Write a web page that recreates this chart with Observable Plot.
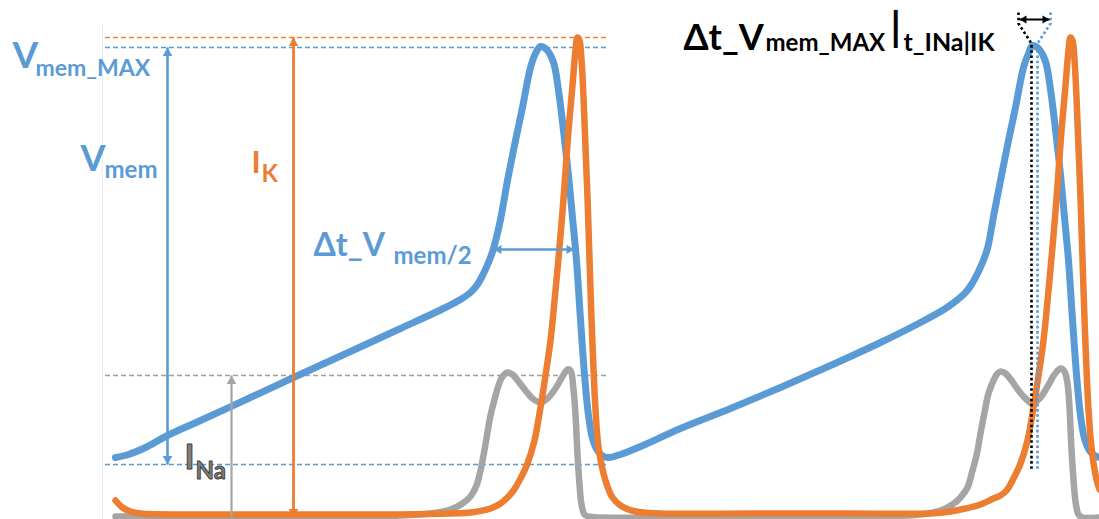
<!DOCTYPE html>
<html><head><meta charset="utf-8">
<script src="https://cdn.jsdelivr.net/npm/d3@7"></script>
<script src="https://cdn.jsdelivr.net/npm/@observablehq/plot@0.6"></script>
<style>
html,body{margin:0;padding:0;background:#fff;}
#chart svg{display:block;}
</style></head><body><div id="chart"></div>
<script>
// ---- series values (time in a.u., amplitude in a.u.) ----
const vmemTime  = [115,128,145,167,200,250,293,350,400,445,460,470,477,483,488,493,500,507,515,522,530,535,540,546,553,558,563,568,572,576,580,584,588,592,597,603,608,620,640,680,730,780,830,880,920,945,956,965,971,977,982,987,993,1000,1008,1015,1023,1028,1032,1038,1045,1050,1055,1060,1064,1068,1072,1076,1080,1084,1089,1094,1099];
const vmemValue = [62,65,72,84,99,122,142,168,191,212,220,227,235,246,257,271,300,339,379,412,452,466,473,470,457,429,389,344,302,259,200,145,104,81,69,63,62,65,73,91,111,132,154,177,197,211,219,227,235,246,257,271,303,339,379,412,452,466,474,471,458,430,390,345,302,259,200,145,104,81,69,64,62];

const ikTime  = [115,122,130,140,200,300,400,450,470,490,500,507,513,520,527,534,540,545,550,555,560,564,568,572,575,577,579,581,583,585,587,590,592,595,598,603,607,612,620,635,660,750,850,930,950,965,980,993,1000,1006,1013,1020,1027,1033,1038,1043,1048,1053,1057,1061,1065,1068,1070,1072,1074,1076,1078,1080,1083,1085,1088,1091,1096,1099];
const ikValue = [19,12,8,6,5,5,5,6,7,11,16,22,29,41,56,79,112,144,179,229,284,334,389,434,469,482,479,460,422,372,322,230,175,110,72,46,33,22,14,8,6,6,6,6,8,11,15,21,24,29,41,56,79,112,144,179,229,284,334,389,434,469,482,479,460,422,372,322,230,175,110,72,40,30];

const inaTime  = [115,200,300,400,430,450,462,470,476,480,483,487,490,493,498,502,507,512,518,525,532,540,547,555,562,567,570,573,575,577,579,581,584,588,600,700,800,880,920,940,952,960,967,972,976,980,984,988,993,997,1000,1005,1011,1018,1025,1032,1040,1047,1054,1060,1064,1067,1069,1071,1073,1075,1078,1082,1099];
const inaValue = [3,3,3,4,6,10,16,23,34,49,64,87,104,116,134,143,147,145,138,129,121,117,121,131,143,150,149,130,105,65,35,15,5,3,2,2,2,3,5,9,15,22,32,49,64,86,107,126,139,146,148,146,139,129,121,116,122,133,145,151,148,136,112,70,40,18,5,2,2];

// reference levels
const refNames  = ["IK max","Vmem max","INa max","Vmem min"];
const refValues = [482, 472, 144, 55];
const refFrom   = [105, 105, 105, 105];
const refTo     = [608, 608, 608, 608];

// peak-time markers (dotted): time of Vmem peak and of INa|IK crossing
const peakMarkTime  = [1031, 1037];

// ---- styles ----
const BLUE = "#5B9BD5", ORANGE = "#ED7D31", GRAY = "#A5A5A5", DARK = "#000000";
const FONT = "Lato, 'Open Sans', 'DejaVu Sans', sans-serif";

const vmem = vmemTime.map((t, i) => ({t, v: vmemValue[i]}));
const ik   = ikTime.map((t, i) => ({t, v: ikValue[i]}));
const ina  = inaTime.map((t, i) => ({t, v: inaValue[i]}));
const refs = refValues.map((v, i) => ({name: refNames[i], v, x1: refFrom[i], x2: refTo[i],
  color: [ORANGE, BLUE, "#A0A0A0", BLUE][i]}));

// annotation arrows (tips, in data units)
const arrows = [
  {x1: 167, y1: 472, x2: 167, y2: 55, color: BLUE, w: 2.6, a: "up", b: "down", r: 3.6},
  {x1: 293, y1: 482, x2: 293, y2: 2, color: ORANGE, w: 2.8, a: "up", b: "down", r: 3.6},
  {x1: 231, y1: 144, x2: 231, y2: 2, color: GRAY, w: 2.2, a: "up", b: null, r: 3.6},
  {x1: 493, y1: 270, x2: 574, y2: 270, color: BLUE, w: 2.4, a: "left", b: "right", r: 3.4},
  {x1: 1019, y1: 500, x2: 1049, y2: 500, color: DARK, w: 2, a: "left", b: "right", r: 3.0}
];
const dotted = [
  {pts: [[peakMarkTime[0] - 13, 507], [peakMarkTime[0] - 13, 496], [peakMarkTime[0], 476], [peakMarkTime[0], 49]], color: DARK},
  {pts: [[peakMarkTime[1] + 13, 507], [peakMarkTime[1] + 13, 496], [peakMarkTime[1], 476], [peakMarkTime[1], 49]], color: BLUE}
];

// labels: left x, baseline y (data units)
const labels = [
  {t: "V", x: 12, y: 452, s: 37, c: BLUE, sx: 1.6},
  {t: "mem_MAX", x: 35, y: 444, s: 23, c: BLUE, sx: 1.2},
  {t: "V", x: 80, y: 349, s: 36, c: BLUE, sx: 0.92},
  {t: "mem", x: 104, y: 342, s: 24, c: BLUE, sy: 1.5},
  {t: "I", x: 251, y: 347, s: 31, c: ORANGE},
  {t: "K", x: 261, y: 338, s: 24, c: ORANGE},
  {t: "Δt_V", x: 313, y: 264, s: 32, c: BLUE, sx: 1.14},
  {t: "mem/2", x: 393, y: 256, s: 24, c: BLUE},
  {t: "I", x: 184, y: 51, s: 34, c: "#7F7F7F", st: "#3A3A3A"},
  {t: "Na", x: 195, y: 41, s: 24, c: "#7F7F7F", st: "#3A3A3A"},
  {t: "Δt_V", x: 683, y: 470, s: 36, c: DARK},
  {t: "mem_MAX", x: 765, y: 469, s: 24, c: DARK},
  {t: "|", x: 890, y: 479, s: 40, c: DARK},
  {t: "t_INa|IK", x: 903, y: 469, s: 25, c: DARK, sx: 1.05}
];

const rot = {up: 0, right: 90, down: 180, left: -90};
function headMarks(a) {
  const out = [];
  const k = 2 * Math.sqrt(Math.PI * a.r * a.r / (3 * Math.sqrt(3)));
  for (const [end, dir] of [[[a.x1, a.y1], a.a], [[a.x2, a.y2], a.b]]) {
    if (!dir) continue;
    const off = {up: [0, k], down: [0, -k], left: [k, 0], right: [-k, 0]}[dir];
    out.push(Plot.dot([end], {x: d => d[0], y: d => d[1], symbol: "triangle", r: a.r,
      fill: a.color, stroke: "none", rotate: rot[dir], dx: off[0], dy: off[1]}));
  }
  return out;
}

const marks = [
  Plot.ruleX([102], {y1: 0, y2: 496, stroke: "#ececec", strokeWidth: 1}),
  ...refs.map(r => Plot.ruleY([r], {y: "v", x1: "x1", x2: "x2", stroke: r.color, strokeWidth: 1.5, strokeDasharray: "5,3"})),
  Plot.line(ina, {x: "t", y: "v", stroke: GRAY, strokeWidth: 6.5, curve: "catmull-rom"}),
  Plot.line(vmem, {x: "t", y: "v", stroke: BLUE, strokeWidth: 7, curve: "catmull-rom"}),
  Plot.line(ik, {x: "t", y: "v", stroke: ORANGE, strokeWidth: 6.5, curve: "catmull-rom"}),
  ...dotted.map(d => Plot.line(d.pts, {x: p => p[0], y: p => p[1], stroke: d.color, strokeWidth: 2.6,
    strokeDasharray: "2.6,2.6", strokeLinecap: "butt", strokeLinejoin: "miter", curve: "linear"})),
  ...arrows.map(a => Plot.link([a], {x1: "x1", y1: "y1", x2: "x2", y2: "y2", stroke: a.color, strokeWidth: a.w})),
  ...arrows.flatMap(headMarks),
  ...labels.map((l, i) => Plot.text([l], {x: "x", y: "y", text: "t", fontSize: l.s, fontWeight: "bold",
    fill: l.c, stroke: l.st || "none", strokeWidth: l.st ? 0.9 : 0, paintOrder: "normal",
    textAnchor: "start", lineAnchor: "bottom", ariaLabel: "lbl-" + i}))
];

const chart = Plot.plot({
  width: 1099, height: 519, margin: 0,
  x: {domain: [0, 1099], axis: null},
  y: {domain: [0, 519], axis: null},
  style: {fontFamily: FONT, background: "#fff", overflow: "visible"},
  marks
});
document.getElementById("chart").append(chart);

// stretch the glyphs that are stretched in the reference
labels.forEach((l, i) => {
  const sx = l.sx || 1, sy = l.sy || 1;
  if (sx === 1 && sy === 1) return;
  chart.querySelectorAll(`g[aria-label="lbl-${i}"] text`).forEach(el => {
    const tr = el.getAttribute("transform");
    if (tr) el.setAttribute("transform", tr + ` scale(${sx},${sy})`);
    else {
      const x = +el.getAttribute("x") || 0, y = +el.getAttribute("y") || 0;
      el.setAttribute("transform", `translate(${x},${y}) scale(${sx},${sy}) translate(${-x},${-y})`);
    }
  });
});
</script></body></html>
